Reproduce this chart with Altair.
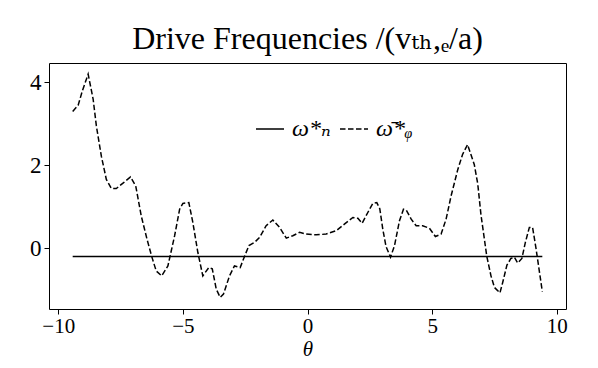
import altair as alt
import pandas as pd

theta_phi = [-9.42, -9.2, -9.03, -8.8, -8.6, -8.47, -8.27, -8.07, -7.87, -7.67, -7.4, -7.1,
             -6.89, -6.67, -6.44, -6.25, -6.07, -5.85, -5.6, -5.33, -5.13, -5.0, -4.76, -4.6,
             -4.4, -4.2, -3.96, -3.82, -3.66, -3.5, -3.37, -3.13, -2.93, -2.7, -2.52, -2.35,
             -2.12, -1.92, -1.66, -1.39, -1.12, -0.85, -0.59, -0.32, -0.05, 0.35, 0.75, 1.15,
             1.48, 1.82, 2.02, 2.19, 2.42, 2.62, 2.78, 2.9, 3.02, 3.15, 3.33, 3.49, 3.69, 3.85,
             3.96, 4.16, 4.36, 4.62, 4.89, 5.13, 5.36, 5.56, 5.76, 6.03, 6.22, 6.42, 6.69, 6.83,
             6.96, 7.1, 7.19, 7.36, 7.5, 7.72, 7.83, 8.0, 8.16, 8.3, 8.43, 8.6, 8.74, 8.9, 9.03,
             9.17, 9.42]
omega_phi = [3.3, 3.45, 3.8, 4.2, 3.6, 2.95, 2.22, 1.66, 1.44, 1.44, 1.57, 1.72,
             1.5, 0.78, 0.22, -0.2, -0.55, -0.67, -0.43, 0.3, 0.94, 1.08, 1.1, 0.62,
             -0.1, -0.67, -0.47, -0.5, -0.99, -1.19, -1.11, -0.67, -0.43, -0.47, -0.19, 0.06,
             0.14, 0.26, 0.54, 0.68, 0.5, 0.24, 0.3, 0.38, 0.34, 0.32, 0.34, 0.42,
             0.58, 0.74, 0.72, 0.6, 0.86, 1.08, 1.1, 0.95, 0.46, 0.04, -0.22, 0.06, 0.66, 0.94,
             0.92, 0.7, 0.54, 0.54, 0.48, 0.28, 0.34, 0.7, 1.26, 1.9, 2.26, 2.5, 2.02, 1.55,
             0.8, 0.2, -0.19, -0.67, -0.95, -1.08, -0.83, -0.41, -0.25, -0.22, -0.36, -0.25, 0.14, 0.5, 0.5,
             -0.02, -1.05]

theta_n = [-9.42, 9.42]
omega_n = [-0.2, -0.2]

label_n = "ω*ₙ"
label_phi = "ω̄*ᵩ"
x_ticks = [-10, -5, 0, 5, 10]
y_ticks = [0, 2, 4]

df = pd.concat([
    pd.DataFrame({"theta": theta_n, "omega": omega_n, "series": label_n}),
    pd.DataFrame({"theta": theta_phi, "omega": omega_phi, "series": label_phi}),
])

FONT = "'Liberation Serif', 'DejaVu Serif', 'DejaVu Sans', serif"

chart = alt.Chart(df).mark_line(strokeWidth=1.5, color="black").encode(
    x=alt.X("theta:Q", scale=alt.Scale(domain=[-10.37, 10.37], nice=False, zero=False),
            axis=alt.Axis(values=x_ticks, title="θ", titleFontStyle="italic", titleFontSize=21,
                          titleFont=FONT, titleFontWeight="normal", titlePadding=2,
                          labelFont=FONT, labelFontSize=21, labelColor="black",
                          tickColor="black", tickSize=5, labelPadding=1, domain=False, grid=False,
                          format="d", labelExpr="replace(datum.label, '-', '−')")),
    y=alt.Y("omega:Q", scale=alt.Scale(domain=[-1.47, 4.47], nice=False, zero=False),
            axis=alt.Axis(values=y_ticks, title=None, labelFont=FONT, labelFontSize=23,
                          labelColor="black", tickColor="black", tickSize=5, labelPadding=3,
                          domain=False, grid=False)),
    strokeDash=alt.StrokeDash("series:N",
                              scale=alt.Scale(domain=[label_n, label_phi], range=[[1, 0], [5.5, 2.5]]),
                              legend=alt.Legend(orient="none", legendX=206, legendY=51,
                                                direction="horizontal", title=None,
                                                labelFont=FONT, labelFontSize=24,
                                                labelFontStyle="italic", labelColor="black",
                                                symbolType="stroke", symbolSize=784,
                                                symbolStrokeWidth=1.5, symbolStrokeColor="black",
                                                labelOffset=7, columnPadding=6)),
).properties(
    width=517,
    height=246,
    autosize=alt.AutoSizeParams(type="none"),
    padding={"left": 41, "top": 55, "right": 24, "bottom": 51},
    title=alt.Title("Drive Frequencies /(vₜₕ,ₑ/a)", font=FONT, fontSize=32, fontWeight="normal",
                    color="black", anchor="middle", baseline="alphabetic", offset=11,
                    frame="group", dy=29),
).configure_view(stroke="black", strokeWidth=1)

chart.save("out.html", embed_options={"renderer": "svg", "actions": False})
